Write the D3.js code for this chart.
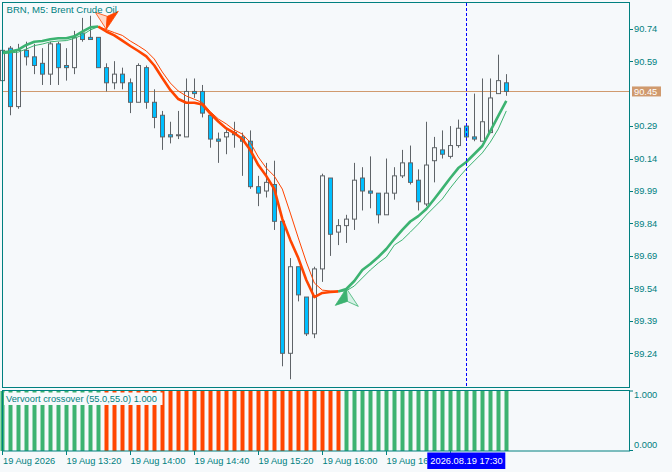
<!DOCTYPE html>
<html>
<head>
<meta charset="utf-8">
<script src="https://cdn.jsdelivr.net/npm/d3@7"></script>
<style>
  body { margin: 0; background: #f6f9fb; }
  .chart { width: 672px; height: 472px; }
  text { font-family: "Liberation Sans", Arial, sans-serif; font-size: 9.3px; fill: #008080; }
</style>
</head>
<body>
<div class="chart"></div>
<script>
// BRN M5 candles, 19 Aug 2026 12:40 .. 17:55
const opens = [90.50, 90.65, 90.38, 90.64, 90.61, 90.58, 90.53, 90.67, 90.57, 90.56,
  90.72, 90.70, 90.70, 90.56, 90.49, 90.53, 90.49, 90.40, 90.56, 90.40,
  90.34, 90.25, 90.25, 90.24, 90.45, 90.45, 90.34, 90.23, 90.24, 90.26,
  90.24, 90.22, 90.01, 89.99, 90.02, 89.85, 89.24, 89.64, 89.50, 89.33,
  89.63, 90.05, 89.80, 89.83, 89.86, 90.05, 89.99, 89.98, 89.88, 89.98,
  90.06, 90.12, 90.04, 89.93, 90.13, 90.18, 90.15, 90.20, 90.29, 90.24,
  90.22, 90.26, 90.44, 90.49];
const highs = [90.65, 90.66, 90.67, 90.68, 90.67, 90.65, 90.68, 90.68, 90.65, 90.73,
  90.79, 90.80, 90.70, 90.58, 90.59, 90.56, 90.51, 90.58, 90.57, 90.46,
  90.36, 90.31, 90.36, 90.51, 90.51, 90.48, 90.35, 90.26, 90.28, 90.31,
  90.26, 90.27, 90.06, 90.12, 90.13, 89.85, 89.68, 89.64, 89.50, 89.64,
  90.07, 90.05, 89.86, 89.88, 90.12, 90.10, 90.15, 89.98, 90.14, 90.10,
  90.18, 90.20, 90.09, 90.31, 90.24, 90.27, 90.29, 90.32, 90.29, 90.44,
  90.51, 90.51, 90.62, 90.53];
const lows = [90.49, 90.34, 90.37, 90.57, 90.53, 90.48, 90.48, 90.48, 90.50, 90.53,
  90.68, 90.69, 90.56, 90.45, 90.46, 90.46, 90.35, 90.40, 90.37, 90.28,
  90.18, 90.21, 90.23, 90.24, 90.42, 90.33, 90.19, 90.12, 90.16, 90.19,
  90.06, 90.00, 89.92, 89.96, 89.81, 89.18, 89.12, 89.48, 89.32, 89.31,
  89.57, 89.69, 89.74, 89.75, 89.81, 89.90, 89.91, 89.84, 89.88, 89.95,
  90.05, 90.02, 89.90, 89.92, 90.03, 90.14, 90.14, 90.19, 90.23, 90.22,
  90.22, 90.26, 90.44, 90.43];
const closes = [90.64, 90.38, 90.64, 90.61, 90.57, 90.53, 90.67, 90.56, 90.56, 90.70,
  90.69, 90.69, 90.56, 90.49, 90.53, 90.49, 90.40, 90.57, 90.40, 90.33,
  90.24, 90.24, 90.25, 90.45, 90.44, 90.35, 90.23, 90.22, 90.26, 90.25,
  90.22, 90.01, 89.98, 90.03, 89.85, 89.24, 89.64, 89.51, 89.33, 89.63,
  90.06, 89.79, 89.83, 89.86, 90.04, 89.99, 89.98, 89.88, 89.98, 90.06,
  90.12, 90.03, 89.94, 90.11, 90.19, 90.16, 90.20, 90.28, 90.24, 90.23,
  90.31, 90.42, 90.50, 90.45];

// Vervoort crossover lines (thick = fast, thin = slow)
const fastLine = [90.631, 90.634, 90.643, 90.665, 90.680, 90.683, 90.691, 90.696, 90.696, 90.705,
  90.726, 90.746, 90.750, 90.727, 90.709, 90.685, 90.660, 90.637, 90.612, 90.570,
  90.512, 90.457, 90.415, 90.398, 90.398, 90.390, 90.348, 90.311, 90.279, 90.258,
  90.230, 90.179, 90.110, 90.059, 89.999, 89.861, 89.764, 89.680, 89.579, 89.500,
  89.519, 89.523, 89.526, 89.537, 89.574, 89.625, 89.653, 89.685, 89.722, 89.768,
  89.810, 89.849, 89.874, 89.907, 89.953, 90.001, 90.050, 90.096, 90.124, 90.161,
  90.198, 90.267, 90.337, 90.406];
const slowLine = [90.624, 90.628, 90.632, 90.646, 90.662, 90.669, 90.679, 90.683, 90.685, 90.695,
  90.711, 90.734, 90.750, 90.736, 90.722, 90.709, 90.683, 90.661, 90.637, 90.600,
  90.540, 90.489, 90.452, 90.429, 90.414, 90.399, 90.357, 90.323, 90.300, 90.272,
  90.253, 90.214, 90.147, 90.096, 90.059, 89.999, 89.888, 89.773, 89.662, 89.565,
  89.532, 89.528, 89.525, 89.529, 89.551, 89.588, 89.625, 89.657, 89.685, 89.740,
  89.764, 89.800, 89.837, 89.879, 89.916, 89.953, 90.004, 90.050, 90.092, 90.129,
  90.166, 90.216, 90.277, 90.360];
// 1 = up (green), -1 = down (red)
const trend = [1, 1, 1, 1, 1, 1, 1, 1, 1, 1, 1, 1, 1,
  -1, -1, -1, -1, -1, -1, -1, -1, -1, -1, -1, -1, -1, -1, -1,
  -1, -1, -1, -1, -1, -1, -1, -1, -1, -1, -1, -1, -1, -1, -1,
  1, 1, 1, 1, 1, 1, 1, 1, 1, 1, 1, 1, 1, 1, 1, 1, 1, 1, 1, 1, 1, 1];

const priceTicks = [90.74, 90.59, 90.29, 90.14, 89.99, 89.84, 89.69, 89.54, 89.39, 89.24];
const timeTickBars = [0, 8, 16, 24, 32, 40, 48, 56];
const timeTickLabels = ['19 Aug 2026', '19 Aug 13:20', '19 Aug 14:00', '19 Aug 14:40',
  '19 Aug 15:20', '19 Aug 16:00', '19 Aug 16:40', '19 Aug 17:20'];
const lastPrice = 90.45;
const cursorBar = 58;
const cursorLabel = '2026.08.19 17:30';
const signals = [{bar: 13, price: 90.737, dir: 'down'}, {bar: 43, price: 89.540, dir: 'up'}];

const width = 672, height = 472;
const teal = '#008080', green = '#3cb371', red = '#ff4500', bg = '#f6f9fb';
const candleGray = '#5f6468', bearFill = '#00bfff', priceCol = '#d09a6e';

let svg = d3.select('.chart')
  .append('svg')
  .attr('width', width)
  .attr('height', height);

svg.append('rect').attr('width', width).attr('height', height).attr('fill', bg);

const x = d3.scaleLinear().domain([0, 63]).range([2.3, 506.3]);
const y = d3.scaleLinear().domain([89.24, 90.74]).range([353.3, 28.7]);
const yInd = d3.scaleLinear().domain([0, 1]).range([451, 391]);

// price line
svg.append('line')
  .attr('x1', 2).attr('x2', 629.5)
  .attr('y1', Math.round(y(lastPrice)) + 0.5).attr('y2', Math.round(y(lastPrice)) + 0.5)
  .style('stroke', priceCol).style('stroke-width', 1);

// candles
const idx = d3.range(opens.length);
let candles = svg.append('g');
candles.selectAll('line.wick')
  .data(idx).enter().append('line')
  .attr('x1', i => Math.round(x(i)) + 0.5)
  .attr('x2', i => Math.round(x(i)) + 0.5)
  .attr('y1', i => y(highs[i]))
  .attr('y2', i => y(lows[i]))
  .style('stroke', candleGray).style('stroke-width', 1);
candles.selectAll('rect.body')
  .data(idx).enter().append('rect')
  .attr('x', i => Math.round(x(i)) - 1.5)
  .attr('width', 4)
  .attr('y', i => y(Math.max(opens[i], closes[i])))
  .attr('height', i => Math.max(1, Math.abs(y(opens[i]) - y(closes[i]))))
  .attr('fill', i => closes[i] < opens[i] ? bearFill : bg)
  .style('stroke', candleGray).style('stroke-width', 1);

// coloured indicator lines, runs of equal trend
function drawLine(values, w) {
  const line = d3.line().x(i => x(i)).y(i => y(values[i]));
  let start = 0;
  for (let i = 1; i <= values.length; i++) {
    if (i === values.length || trend[i] !== trend[start + (start === 0 ? 0 : 1)]) {
      const pts = d3.range(start, i);
      if (pts.length > 1) {
        svg.append('path')
          .attr('d', line(pts))
          .attr('fill', 'none')
          .style('stroke', trend[i - 1] > 0 ? green : red)
          .style('stroke-width', w)
          .style('stroke-linejoin', 'round');
      }
      start = i - 1;
    }
  }
}
drawLine(slowLine, 1);
drawLine(fastLine, 2.6);

// signal arrows
signals.forEach(s => {
  const tx = x(s.bar), ty = y(s.price);
  const d = s.dir === 'down' ? -1 : 1;
  const col = s.dir === 'down' ? red : green;
  const pale = s.dir === 'down' ? '#ffd9c9' : '#d6f1e6';
  const left = [tx - 11, ty + d * 17], right = [tx + 12, ty + d * 18], notch = [tx + 1, ty + d * 13];
  const solidSide = s.dir === 'down' ? right : left;
  const paleSide = s.dir === 'down' ? left : right;
  svg.append('polygon')
    .attr('points', [[tx, ty], paleSide, notch].join(' '))
    .attr('fill', pale).style('stroke', col).style('stroke-width', 0.8);
  svg.append('polygon')
    .attr('points', [[tx, ty], solidSide, notch].join(' '))
    .attr('fill', col).style('stroke', col).style('stroke-width', 0.8);
});

// cursor line
svg.append('line')
  .attr('x1', Math.round(x(cursorBar)) + 0.5).attr('x2', Math.round(x(cursorBar)) + 0.5)
  .attr('y1', 3).attr('y2', 387)
  .style('stroke', '#0000ff').style('stroke-width', 1).style('stroke-dasharray', '3,2');

// title
svg.append('text').attr('x', 6.5).attr('y', 12.8).style('font-size', '9.6px').text('BRN, M5:  Brent Crude Oil');

// frames
svg.append('rect').attr('x', 2.5).attr('y', 2.5).attr('width', 627).attr('height', 385)
  .attr('fill', 'none').style('stroke', teal).style('stroke-width', 1);

// indicator histogram
svg.selectAll('rect.hist')
  .data(idx).enter().append('rect')
  .attr('x', i => Math.round(x(i)) - 1.5)
  .attr('width', 4)
  .attr('y', yInd(1))
  .attr('height', yInd(0) - yInd(1))
  .attr('fill', i => trend[i] > 0 ? green : red);
svg.append('rect').attr('x', 4).attr('y', 392.5).attr('width', 158.5).attr('height', 12.5).attr('fill', bg);
svg.append('text').attr('x', 6).attr('y', 402).text('Vervoort crossover (55.0,55.0) 1.000');
svg.append('rect').attr('x', 2.5).attr('y', 390.5).attr('width', 627).attr('height', 60.5)
  .attr('fill', 'none').style('stroke', teal).style('stroke-width', 1);

// price axis
let pAxis = svg.append('g');
priceTicks.forEach(p => {
  const py = Math.round(y(p)) + 0.5;
  pAxis.append('line').attr('x1', 629.5).attr('x2', 633).attr('y1', py).attr('y2', py)
    .style('stroke', teal);
  pAxis.append('text').attr('x', 634).attr('y', y(p) + 3.4).text(p.toFixed(2));
});
const ly = y(lastPrice);
svg.append('rect').attr('x', 632).attr('y', ly - 5).attr('width', 29).attr('height', 10)
  .attr('fill', priceCol);
svg.append('text').attr('x', 634).attr('y', ly + 3.4).style('fill', '#ffffff').text(lastPrice.toFixed(2));

// indicator axis
[[1, 391, 398.4], [0, 450.5, 448.4]].forEach(([v, ty, by]) => {
  svg.append('line').attr('x1', 629.5).attr('x2', 633).attr('y1', ty).attr('y2', ty).style('stroke', teal);
  svg.append('text').attr('x', 634).attr('y', by).text(v.toFixed(3));
});

// time axis; labels are cut where the cursor box starts
const cx = x(cursorBar);
const boxLeft = cx - 39;
svg.append('clipPath').attr('id', 'timeclip')
  .append('rect').attr('x', 0).attr('y', 440).attr('width', boxLeft).attr('height', 32);
let tAxis = svg.append('g').attr('clip-path', 'url(#timeclip)');
timeTickBars.forEach((b, j) => {
  const tx = Math.round(x(b)) + 0.5;
  svg.append('line').attr('x1', tx).attr('x2', tx).attr('y1', 451).attr('y2', 455).style('stroke', teal);
  if (tx < boxLeft) {
    tAxis.append('text').attr('x', j === 0 ? 3 : tx).attr('y', 464).text(timeTickLabels[j]);
  }
});
svg.append('rect').attr('x', boxLeft).attr('y', 452.5).attr('width', 78).attr('height', 16.5)
  .attr('fill', '#0000ff');
svg.append('text').attr('x', cx - 36).attr('y', 464).style('fill', '#ffffff').text(cursorLabel);
</script>
</body>
</html>
